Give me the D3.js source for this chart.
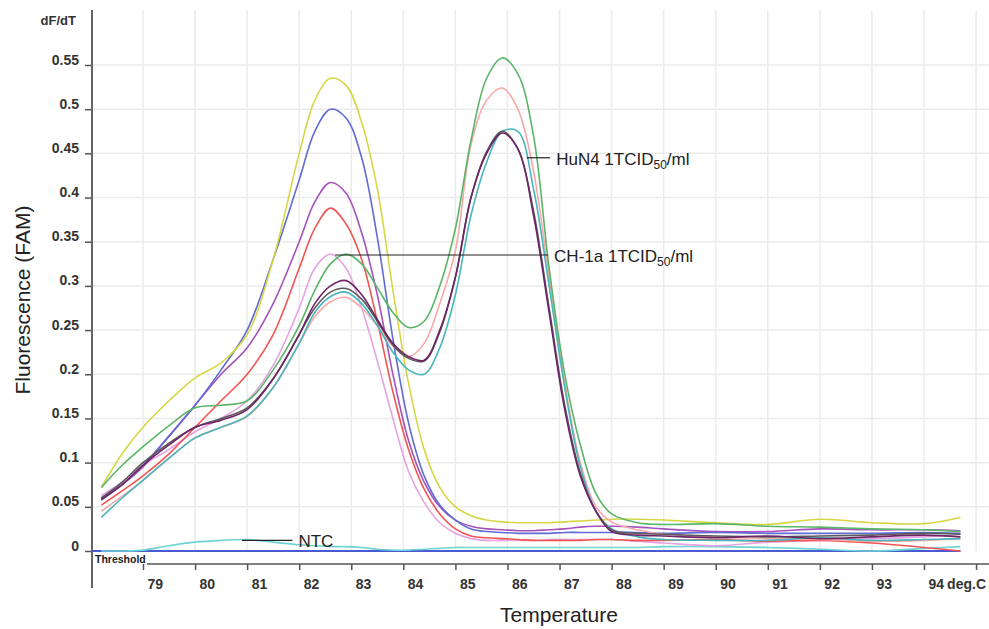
<!DOCTYPE html>
<html>
<head>
<meta charset="utf-8">
<script src="https://cdn.jsdelivr.net/npm/d3@7"></script>
<style>
  body { margin: 0; background: #fff; }
  svg { display: block; font-family: Arial, "Liberation Sans", sans-serif; }
</style>
</head>
<body>
<svg id="chart" width="989" height="629"></svg>
<script>
// melt curve temperatures (deg C), shared by every curve
const temps = [78.2, 78.6, 79, 79.5, 80, 80.5, 81, 81.5, 82, 82.3, 82.6, 82.9, 83.2, 83.5, 83.8, 84.1, 84.4, 84.7,
  85, 85.3, 85.6, 85.9, 86.2, 86.5, 86.8, 87.1, 87.4, 87.7, 88, 88.5, 89, 90, 91, 92, 93, 94, 94.7];

// dF/dT per sample
const yellowCurve = [0.072, 0.11, 0.14, 0.17, 0.196, 0.213, 0.245, 0.33, 0.45, 0.51, 0.535, 0.527, 0.485, 0.41, 0.295, 0.19, 0.115, 0.072,
  0.05, 0.04, 0.035, 0.033, 0.032, 0.032, 0.032, 0.033, 0.034, 0.035, 0.036, 0.036, 0.035, 0.032, 0.030, 0.036, 0.032, 0.031, 0.038];
const blueCurve = [0.058, 0.075, 0.097, 0.13, 0.165, 0.205, 0.25, 0.33, 0.42, 0.475, 0.50, 0.49, 0.445, 0.355, 0.24, 0.145, 0.085, 0.052,
  0.035, 0.025, 0.022, 0.021, 0.02, 0.02, 0.02, 0.021, 0.021, 0.021, 0.021, 0.021, 0.02, 0.021, 0.02, 0.02, 0.02, 0.021, 0.02];
const purpleCurve = [0.06, 0.075, 0.095, 0.13, 0.165, 0.2, 0.23, 0.28, 0.35, 0.395, 0.417, 0.405, 0.36, 0.29, 0.20, 0.125, 0.078, 0.05,
  0.035, 0.028, 0.025, 0.024, 0.023, 0.023, 0.024, 0.025, 0.027, 0.028, 0.028, 0.027, 0.025, 0.022, 0.022, 0.025, 0.024, 0.024, 0.023];
const redCurve = [0.052, 0.068, 0.085, 0.11, 0.14, 0.17, 0.20, 0.245, 0.32, 0.365, 0.388, 0.37, 0.33, 0.26, 0.18, 0.115, 0.07, 0.042,
  0.025, 0.017, 0.015, 0.014, 0.013, 0.012, 0.012, 0.012, 0.012, 0.013, 0.013, 0.012, 0.012, 0.013, 0.011, 0.012, 0.009, 0.004, 0.0];
const plumCurve = [0.063, 0.078, 0.097, 0.115, 0.135, 0.15, 0.17, 0.21, 0.275, 0.32, 0.336, 0.32, 0.275, 0.215, 0.15, 0.09, 0.055, 0.032,
  0.02, 0.014, 0.012, 0.012, 0.012, 0.012, 0.013, 0.013, 0.013, 0.013, 0.013, 0.011, 0.009, 0.006, 0.01, 0.012, 0.014, 0.016, 0.019];
const greenCurve = [0.072, 0.097, 0.118, 0.142, 0.162, 0.165, 0.17, 0.205, 0.255, 0.295, 0.325, 0.336, 0.325, 0.298, 0.27, 0.253, 0.26, 0.30,
  0.365, 0.465, 0.535, 0.558, 0.54, 0.47, 0.32, 0.2, 0.12, 0.065, 0.042, 0.032, 0.03, 0.031, 0.028, 0.027, 0.025, 0.024, 0.022];
const pinkCurve = [0.045, 0.062, 0.08, 0.105, 0.128, 0.14, 0.152, 0.185, 0.235, 0.265, 0.282, 0.287, 0.275, 0.255, 0.232, 0.22, 0.235, 0.28,
  0.34, 0.46, 0.51, 0.524, 0.50, 0.43, 0.31, 0.19, 0.10, 0.05, 0.033, 0.024, 0.019, 0.016, 0.014, 0.013, 0.011, 0.012, 0.014];
const cyanCurve = [0.038, 0.06, 0.08, 0.105, 0.128, 0.14, 0.153, 0.185, 0.235, 0.27, 0.288, 0.293, 0.28, 0.255, 0.225, 0.205, 0.2, 0.23,
  0.29, 0.38, 0.44, 0.475, 0.475, 0.41, 0.30, 0.185, 0.095, 0.045, 0.025, 0.016, 0.013, 0.012, 0.012, 0.015, 0.012, 0.013, 0.014];
const darkPurpleCurve = [0.058, 0.075, 0.097, 0.12, 0.14, 0.148, 0.16, 0.195, 0.245, 0.28, 0.30, 0.306, 0.29, 0.262, 0.235, 0.22, 0.216, 0.25,
  0.31, 0.40, 0.45, 0.473, 0.455, 0.38, 0.27, 0.16, 0.085, 0.045, 0.022, 0.018, 0.017, 0.015, 0.017, 0.014, 0.016, 0.018, 0.016];
const greyCurve = [0.06, 0.078, 0.1, 0.122, 0.14, 0.15, 0.162, 0.195, 0.245, 0.275, 0.293, 0.297, 0.285, 0.26, 0.233, 0.218, 0.215, 0.248,
  0.31, 0.40, 0.452, 0.475, 0.455, 0.385, 0.275, 0.165, 0.088, 0.045, 0.024, 0.02, 0.019, 0.017, 0.016, 0.017, 0.018, 0.02, 0.019];
const ntcCurve = [0.0, 0.0, 0.001, 0.006, 0.01, 0.012, 0.013, 0.01, 0.007, 0.006, 0.005, 0.005, 0.004, 0.002, 0.001, 0.001, 0.002, 0.003,
  0.004, 0.004, 0.004, 0.004, 0.004, 0.004, 0.004, 0.004, 0.004, 0.004, 0.004, 0.004, 0.005, 0.005, 0.004, 0.002, 0.0, 0.003, 0.005];

// axis ticks
const xTicks = [79, 80, 81, 82, 83, 84, 85, 86, 87, 88, 89, 90, 91, 92, 93, 94, 95];
const yTicks = [0, 0.05, 0.1, 0.15, 0.2, 0.25, 0.3, 0.35, 0.4, 0.45, 0.5, 0.55];

const curves = [
  { values: ntcCurve, color: "#6fd3d3" },
  { values: plumCurve, color: "#e6a3e3" },
  { values: redCurve, color: "#f25454" },
  { values: purpleCurve, color: "#a552bd" },
  { values: blueCurve, color: "#5f6cd4" },
  { values: yellowCurve, color: "#d7d745" },
  { values: pinkCurve, color: "#f8a8a8" },
  { values: cyanCurve, color: "#48b6bc" },
  { values: greyCurve, color: "#5a5a5a" },
  { values: darkPurpleCurve, color: "#6e2466" },
  { values: greenCurve, color: "#5ab566" }
];

const svg = d3.select("#chart");
const W = 989;
const x = d3.scaleLinear().domain([79, 94]).range([143, 924]);
const y = d3.scaleLinear().domain([0, 0.55]).range([551, 65]);
const plotLeft = 92, plotTop = 10, xAxisY = 564;

svg.append("rect").attr("width", W).attr("height", 629).attr("fill", "#fff");

// grid
const grid = svg.append("g").attr("stroke", "#ebebeb").attr("stroke-width", 1.5);
grid.selectAll(".v").data(xTicks).join("line")
  .attr("x1", d => x(d)).attr("x2", d => x(d))
  .attr("y1", plotTop).attr("y2", y(0));
grid.selectAll(".h").data(yTicks.slice(1)).join("line")
  .attr("x1", plotLeft).attr("x2", W)
  .attr("y1", d => y(d)).attr("y2", d => y(d));

// y axis
const yAxis = svg.append("g").attr("transform", `translate(${plotLeft},0)`)
  .call(d3.axisLeft(y).tickValues(yTicks).tickSize(7).tickPadding(6).tickFormat(d => String(d)));
yAxis.select(".domain").remove();
yAxis.selectAll("line").attr("stroke", "#555").attr("stroke-width", 1.5);
yAxis.selectAll("text").attr("dy", -1).attr("fill", "#333")
  .style("font-size", "14px").style("font-weight", "bold").style("font-family", "Arial, 'Liberation Sans', sans-serif");
svg.append("line").attr("x1", plotLeft).attr("x2", plotLeft).attr("y1", plotTop).attr("y2", 588)
  .attr("stroke", "#666").attr("stroke-width", 2);
svg.append("text").attr("x", 76).attr("y", 25).attr("text-anchor", "end")
  .attr("fill", "#333").style("font-size", "13px").style("font-weight", "bold").text("dF/dT");

// x axis
const xAxis = svg.append("g").attr("transform", `translate(0,${xAxisY})`)
  .call(d3.axisBottom(x).tickValues(xTicks).tickSize(6).tickPadding(9).tickFormat(d => d === 95 ? "" : String(d)));
xAxis.select(".domain").remove();
xAxis.selectAll("line").attr("stroke", "#555").attr("stroke-width", 1.5);
xAxis.selectAll("text").attr("text-anchor", "start").attr("dx", 4).attr("dy", "0.71em").attr("fill", "#333")
  .style("font-size", "14px").style("font-weight", "bold").style("font-family", "Arial, 'Liberation Sans', sans-serif");
svg.append("line").attr("x1", 147).attr("x2", W).attr("y1", xAxisY).attr("y2", xAxisY)
  .attr("stroke", "#555").attr("stroke-width", 1.5);
svg.append("text").attr("x", 986).attr("y", 589).attr("text-anchor", "end").attr("fill", "#333")
  .style("font-size", "14px").style("font-weight", "bold").text("deg.C");
svg.append("text").attr("x", 95).attr("y", 563).attr("fill", "#222")
  .style("font-size", "10.5px").style("font-weight", "bold").text("Threshold");

// axis titles
svg.append("text").attr("x", 559).attr("y", 622).attr("text-anchor", "middle")
  .attr("fill", "#222").style("font-size", "21px").text("Temperature");
svg.append("text").attr("transform", "translate(30,300) rotate(-90)").attr("text-anchor", "middle")
  .attr("fill", "#222").style("font-size", "21px").text("Fluorescence (FAM)");

// curves
const line = d3.line()
  .x((d, i) => x(temps[i]))
  .y(d => y(d))
  .curve(d3.curveCatmullRom.alpha(0.5));

svg.append("line").attr("x1", plotLeft).attr("x2", x(94.7)).attr("y1", y(0)).attr("y2", y(0))
  .attr("stroke", "#4a5ad2").attr("stroke-width", 2);

svg.append("g").selectAll("path").data(curves).join("path")
  .attr("d", d => line(d.values))
  .attr("fill", "none")
  .attr("stroke", d => d.color)
  .attr("stroke-width", 1.6)
  .attr("stroke-linejoin", "round");

// annotations
const notes = [
  { x1: 80.9, x2: 81.87, v: 0.012, label: "NTC", sub: null, tail: null },
  { x1: 82.69, x2: 86.78, v: 0.335, label: "CH-1a 1TCID", sub: "50", tail: "/ml" },
  { x1: 86.37, x2: 86.82, v: 0.445, label: "HuN4 1TCID", sub: "50", tail: "/ml" }
];
const ann = svg.append("g");
ann.selectAll("line").data(notes).join("line")
  .attr("x1", d => x(d.x1)).attr("x2", d => x(d.x2))
  .attr("y1", d => y(d.v)).attr("y2", d => y(d.v))
  .attr("stroke", "#222").attr("stroke-width", 1.2);
notes.forEach(d => {
  const t = ann.append("text").attr("x", x(d.x2) + 6).attr("y", y(d.v) + 7)
    .attr("fill", "#222").style("font-size", "17px");
  t.append("tspan").text(d.label);
  if (d.sub) {
    t.append("tspan").attr("dy", 4).style("font-size", "12px").text(d.sub);
    t.append("tspan").attr("dy", -4).text(d.tail);
  }
});
</script>
</body>
</html>
